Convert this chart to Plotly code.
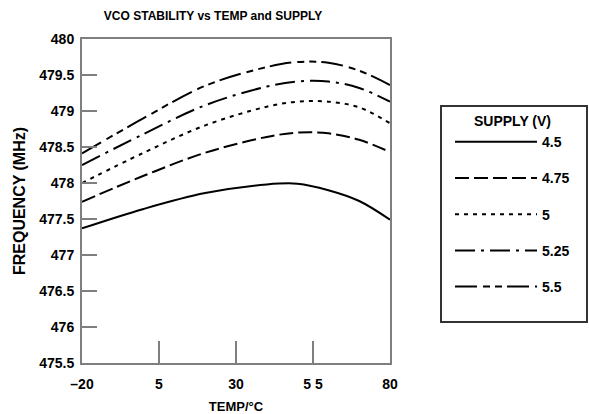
import plotly.graph_objects as go

temps = [-20, 0, 20, 40, 50, 60, 70, 80]
v45 = [477.37, 477.64, 477.86, 477.98, 477.99, 477.90, 477.75, 477.49]
v475 = [477.74, 478.10, 478.42, 478.64, 478.70, 478.69, 478.60, 478.43]
v5 = [478.00, 478.42, 478.80, 479.06, 479.13, 479.13, 479.05, 478.83]
v525 = [478.25, 478.68, 479.08, 479.34, 479.41, 479.41, 479.32, 479.13]
v55 = [478.41, 478.90, 479.35, 479.61, 479.68, 479.67, 479.56, 479.36]

supply_labels = ["4.5", "4.75", "5", "5.25", "5.5"]
series = [v45, v475, v5, v525, v55]
dashes = ["solid", "14px,5px", "4px,5px", "20px,6px,3px,6px", "22px,6px,7px,5px,7px,5px"]

xtick_vals = [-20, 5, 30, 55, 80]
xtick_text = ["\u201320", "5", "30", "5 5", "80"]
ytick_vals = [475.5, 476, 476.5, 477, 477.5, 478, 478.5, 479, 479.5, 480]
ytick_text = ["475.5", "476", "476.5", "477", "477.5", "478", "478.5", "479", "479.5", "480"]

FONT = "Liberation Sans"

# plot area target (screen): x 82..390, y 39..363; body margin removed below
W, H = 589, 414
L, T, PW, PH = 82, 39, 308, 324


def px(sx):
    return (sx - L) / PW


def py(sy):
    return (T + PH - sy) / PH


fig = go.Figure()
for i, (lab, vals, d) in enumerate(zip(supply_labels, series, dashes)):
    fig.add_trace(go.Scatter(
        x=temps, y=vals, mode="lines", name=lab,
        line=dict(color="black", width=2, dash=d, shape="spline", smoothing=1.0),
        legendgroup=f"g{i}",
    ))

fig.update_layout(
    width=W, height=H,
    margin=dict(l=L, r=W - L - PW, t=T, b=H - T - PH, autoexpand=False),
    paper_bgcolor="white", plot_bgcolor="white",
    font=dict(family=FONT, size=14, color="black", weight="bold"),
    title=dict(text="VCO STABILITY vs TEMP and SUPPLY", x=px(213), xref="paper", xanchor="center",
               y=1 - 16 / H, yref="container", yanchor="middle",
               font=dict(family=FONT, size=12, color="black", weight="bold")),
    xaxis=dict(range=[-20, 80], tickvals=xtick_vals, ticktext=xtick_text,
               ticks="inside", ticklen=22, tickwidth=1.5, tickcolor="#7f7f7f",
               showline=True, linecolor="#7f7f7f", linewidth=2, mirror=True,
               showgrid=False, zeroline=False, ticklabelstandoff=7, automargin=False,
               title=dict(text="TEMP/\u00b0C", standoff=13, font=dict(size=13, weight="bold")),
               tickfont=dict(size=14, weight="bold")),
    yaxis=dict(range=[475.5, 480], tickvals=ytick_vals, ticktext=ytick_text,
               ticks="inside", ticklen=15, tickwidth=1.5, tickcolor="#7f7f7f",
               showline=True, linecolor="#7f7f7f", linewidth=2, mirror=True,
               showgrid=False, zeroline=False, ticklabelstandoff=3, automargin=False,
               title=dict(text="FREQUENCY (MHz)", standoff=10, font=dict(size=16, weight="bold")),
               tickfont=dict(size=14, weight="bold")),
    legend=dict(x=px(450), y=py(108), xanchor="left", yanchor="top",
                borderwidth=0, bgcolor="rgba(0,0,0,0)",
                itemwidth=82, tracegroupgap=15, traceorder="grouped",
                title=dict(text="SUPPLY (V)", side="top center", font=dict(size=14, weight="bold")),
                font=dict(size=14, weight="bold")),
    showlegend=True,
    shapes=[dict(type="rect", xref="paper", yref="paper",
                 x0=px(441), x1=px(587), y0=py(322), y1=py(106),
                 line=dict(color="#333333", width=2), fillcolor="rgba(0,0,0,0)", layer="below")],
)

fig.write_html("out.html", config={"displayModeBar": False},
               post_script="document.body.style.margin='0';")
